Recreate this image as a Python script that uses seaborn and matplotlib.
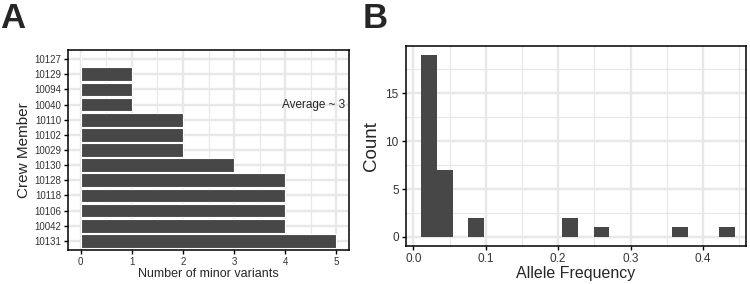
import matplotlib
matplotlib.use("Agg")
import matplotlib.pyplot as plt
from matplotlib.ticker import MultipleLocator
import seaborn as sns
import pandas as pd
import numpy as np

# Panel A: minor variants per crew member (top to bottom)
crew = ["10127", "10129", "10094", "10040", "10110", "10102", "10029",
        "10130", "10128", "10118", "10106", "10042", "10131"]
n_variants = [0, 1, 1, 1, 2, 2, 2, 3, 4, 4, 4, 4, 5]

# Panel B: allele frequency histogram (bin centers and counts)
bin_centers = [0.0218, 0.0435, 0.0870, 0.2175, 0.2610, 0.3697, 0.4332]
bin_counts = [19, 7, 2, 2, 1, 1, 1]
bin_lo, bin_hi, n_bins = 0.011, 0.4437, 20

sns.set_theme(style="white")
plt.rcParams['font.family'] = ['Liberation Sans', 'DejaVu Sans']

fig = plt.figure(figsize=(7.5, 2.84), dpi=100)
axA = fig.add_axes([68/750, 1 - 250/284, 281/750, 200/284])
axB = fig.add_axes([405.7/750, 1 - 246/284, 340/750, 200/284])

bar_col = "#474747"
grid_col = "#e8e8e8"

def style_axes(ax):
    for s in ax.spines.values():
        s.set_color("black")
        s.set_linewidth(1.1)
    ax.set_axisbelow(True)
    ax.grid(which="major", color=grid_col, linewidth=1.7)
    ax.grid(which="minor", color=grid_col, linewidth=0.9)
    ax.tick_params(which="major", length=3, width=1, color="black", direction="out",
                   left=True, bottom=True, pad=2)
    ax.tick_params(which="minor", length=0)

# --- Panel A ---
dfA = pd.DataFrame({"crew": crew, "n": n_variants})
sns.barplot(data=dfA, x="n", y="crew", order=crew, color=bar_col, width=0.9,
            saturation=1, edgecolor="white", linewidth=0.8, ax=axA)
axA.set_xlim(-0.25, 5.25)
axA.set_ylim(len(crew) - 0.4, -0.6)
axA.xaxis.set_major_locator(MultipleLocator(1))
axA.xaxis.set_minor_locator(MultipleLocator(0.5))
style_axes(axA)
axA.tick_params(axis="both", labelsize=7, labelcolor="#333333")
axA.set_xlabel("Number of minor variants", fontsize=9, labelpad=1)
axA.set_ylabel("Crew Member", fontsize=11, labelpad=2)
axA.text(5.18, 3, "Average ~ 3", ha="right", va="center", fontsize=8.5)

# --- Panel B ---
dfB = pd.DataFrame({"af": bin_centers, "count": bin_counts})
sns.histplot(data=dfB, x="af", weights="count", bins=n_bins, binrange=(bin_lo, bin_hi),
             color=bar_col, alpha=1, linewidth=0, ax=axB)
axB.set_xlim(-0.0105, 0.459)
axB.set_ylim(-0.95, 19.95)
axB.xaxis.set_major_locator(MultipleLocator(0.1))
axB.xaxis.set_minor_locator(MultipleLocator(0.05))
axB.yaxis.set_major_locator(MultipleLocator(5))
axB.yaxis.set_minor_locator(MultipleLocator(2.5))
axB.xaxis.set_major_formatter(plt.FuncFormatter(lambda v, p: f"{v:.1f}"))
style_axes(axB)
axB.tick_params(axis="both", labelsize=8.5, labelcolor="#333333")
axB.set_xlabel("Allele Frequency", fontsize=11.5, labelpad=1)
axB.set_ylabel("Count", fontsize=13.5, labelpad=4)

fig.text(0, 1 - 2/284, "A", fontsize=25, fontweight="bold", va="top", ha="left")
fig.text(363/750, 1 - 2/284, "B", fontsize=25, fontweight="bold", va="top", ha="left")

fig.savefig("out.png", dpi=100)
